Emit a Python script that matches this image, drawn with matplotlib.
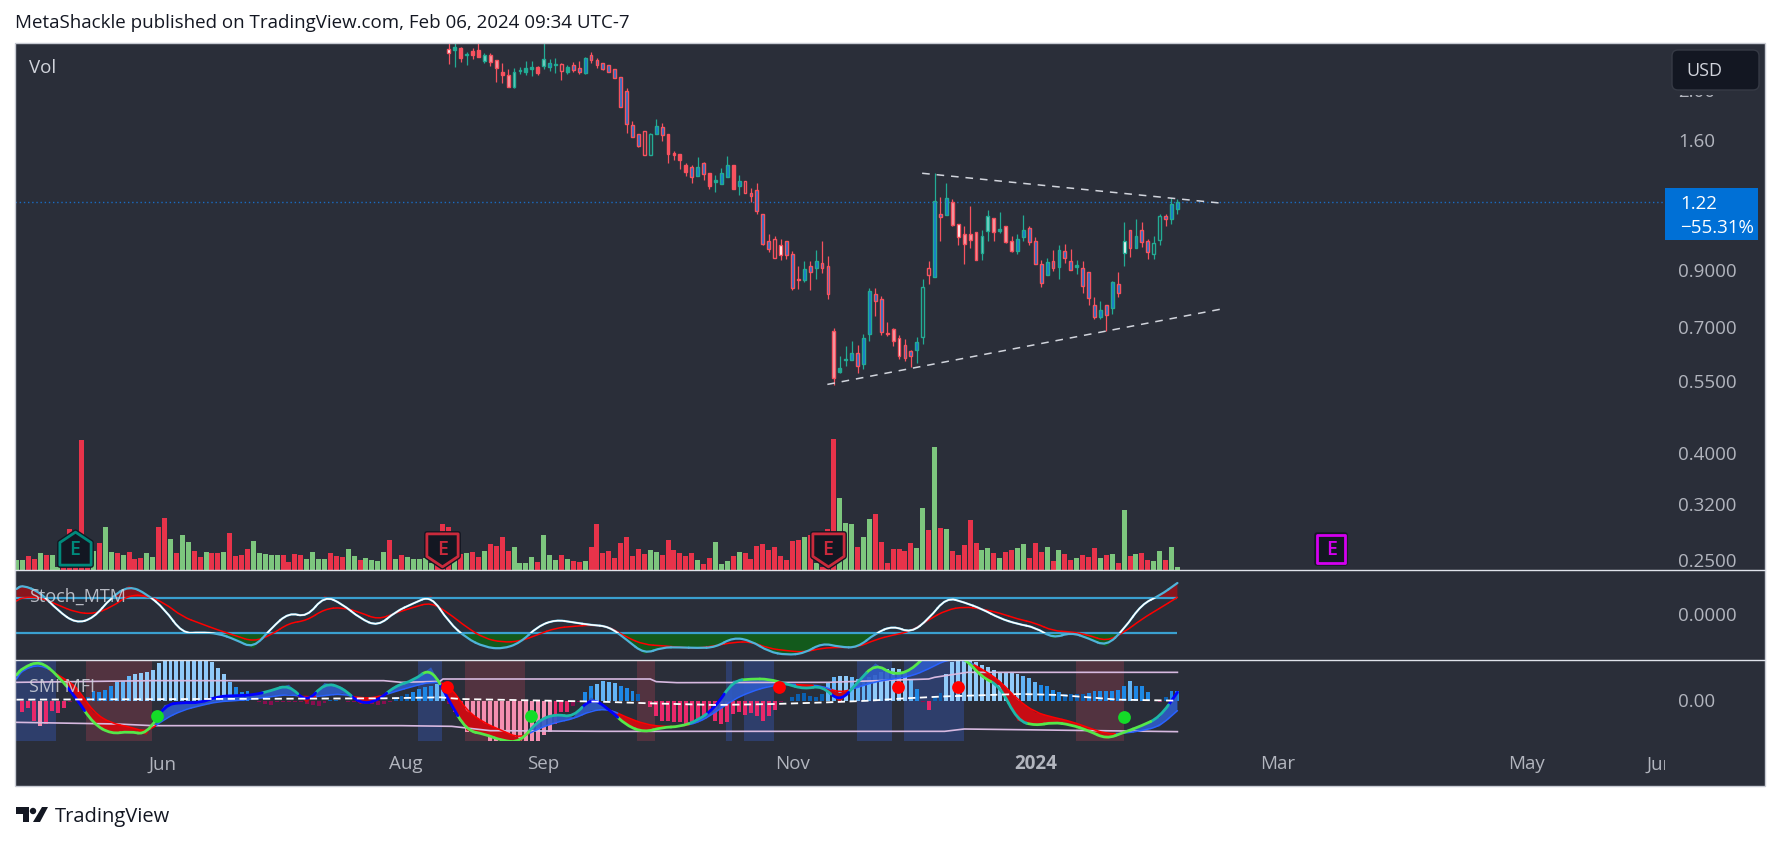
import numpy as np
import matplotlib
matplotlib.use('Agg')
import matplotlib.pyplot as plt
from matplotlib.patches import Rectangle, Polygon, Circle, FancyBboxPatch, PathPatch
from matplotlib.path import Path

plt.rcParams['font.family'] = ['Open Sans', 'DejaVu Sans']

# Candles, oldest first: high, body top, body bottom, low
hi = [2.50,2.52,2.422,2.369,2.411,2.60,2.358,2.358,2.286,2.260,2.200,2.207,2.217,2.280,2.280,2.229,2.60,2.297,2.310,2.256,2.239,2.270,2.280,2.317,2.369,2.310,2.260,2.239,2.203,2.121,2.020,1.748,1.647,1.669,1.655,1.764,1.733,1.647,1.530,1.508,1.452,1.440,1.491,1.458,1.389,1.376,1.420,1.497,1.440,1.376,1.340,1.300,1.328,1.158,1.060,1.051,1.037,1.028,.983,.920,.941,.941,.988,1.028,.962,.699,
      .618,.645,.660,.648,.681,.835,.835,.807,.719,.699,.678,.666,.634,.672,.869,.941,1.389,1.249,1.328,1.238,1.109,1.099,1.200,1.069,1.079,1.179,1.138,1.168,1.099,1.051,1.060,1.153,1.099,1.046,.945,.953,.988,1.009,1.014,.992,.945,.941,.896,.802,.788,.776,.861,.896,1.118,1.079,1.133,1.118,1.037,1.051,1.158,1.158,1.244,1.238]
top = [2.404,2.430,2.414,2.351,2.379,2.390,2.337,2.337,2.286,2.171,2.142,2.168,2.190,2.207,2.220,2.220,2.297,2.260,2.249,2.246,2.220,2.239,2.210,2.310,2.337,2.286,2.256,2.236,2.197,2.121,1.993,1.715,1.647,1.669,1.647,1.707,1.699,1.647,1.517,1.508,1.440,1.427,1.427,1.452,1.389,1.346,1.389,1.440,1.440,1.340,1.340,1.271,1.288,1.158,1.028,1.037,1.009,1.028,.970,.869,.908,.920,.941,.932,.920,.690,
       .586,.610,.626,.626,.669,.824,.813,.795,.684,.696,.669,.648,.631,.657,.839,.912,1.225,1.158,1.244,1.222,1.109,1.060,1.060,1.069,1.051,1.148,1.138,1.084,1.099,1.028,1.037,1.079,1.089,1.028,.928,.937,.941,.988,.983,.941,.924,.912,.896,.776,.757,.776,.858,.850,1.028,1.079,1.051,1.079,1.028,1.019,1.148,1.148,1.211,1.222]
bot = [2.361,2.397,2.314,2.344,2.344,2.324,2.283,2.273,2.213,2.145,2.035,2.035,2.184,2.171,2.203,2.161,2.232,2.222,2.243,2.184,2.174,2.194,2.171,2.165,2.293,2.243,2.203,2.174,2.118,1.862,1.728,1.630,1.564,1.505,1.505,1.652,1.642,1.510,1.503,1.474,1.395,1.365,1.371,1.383,1.312,1.334,1.324,1.365,1.294,1.312,1.271,1.255,1.174,1.014,.992,.953,.966,.966,.835,.865,.865,.896,.912,.912,.813,.560,
       .575,.607,.607,.591,.596,.681,.788,.687,.681,.660,.618,.613,.618,.634,.672,.883,.878,1.143,1.153,1.104,1.046,1.014,1.033,.945,.974,1.074,1.069,1.074,1.023,.983,.983,1.046,1.023,.928,.854,.883,.912,.916,.953,.904,.916,.843,.798,.735,.735,.742,.764,.816,.974,.996,.996,1.023,.979,.970,1.033,1.133,1.133,1.184]
lo = [2.249,2.222,2.273,2.243,2.300,2.317,2.263,2.232,2.080,2.071,2.035,2.026,2.155,2.145,2.136,2.145,2.203,2.184,2.165,2.099,2.155,2.174,2.155,2.155,2.263,2.213,2.194,2.171,2.118,1.862,1.660,1.630,1.557,1.505,1.505,1.652,1.600,1.452,1.471,1.414,1.371,1.328,1.371,1.346,1.294,1.277,1.324,1.365,1.294,1.261,1.271,1.222,1.158,1.009,.979,.953,.945,.949,.827,.831,.858,.827,.869,.892,.795,.543,
      .573,.591,.607,.573,.583,.660,.738,.678,.675,.645,.610,.605,.588,.599,.651,.850,.878,1.028,1.153,1.099,1.009,.928,.996,.945,.945,1.028,1.028,1.065,1.019,.979,.970,1.028,1.009,.928,.839,.883,.900,.869,.932,.904,.887,.816,.776,.728,.728,.690,.745,.802,.920,.957,.996,1.000,.949,.949,1.009,1.099,1.109,1.158]
# Numbers of the teal candles, counted from 1
green_candles = [2,4,7,12,13,14,15,17,18,19,21,24,35,36,43,46,47,48,50,61,63,67,68,69,71,72,80,81,83,85,91,92,94,97,98,102,104,107,111,113,115,117,120,121,123,124]
# Body fill of each candle: b blue, w white, k hollow, p pale, t teal, r red
candle_fill = ('wtrtrrpppr' 'pptttrpbtk' 'tbbbbbbbbb' 'bbbkkbbrrr' 'rbbbrtbbrb' 'kbbbbkwbbr' 'bbbbbp'
               'ttbbbbbbrp' 'wbbbkkbbbp' 'wpppppptpp' 'bbbbbbbbbb' 'tbbbbbbbwb' 'bbbkkbbb')

# Volume bars, oldest first
vol = [10,10,14,11,17,15,15,3,7,41,3,130,3,19,27,43,18,17,15,18,11,12,17,13,43,52,31,17,35,28,19,13,18,17,17,18,37,14,15,21,29,17,16,15,15,15,8,16,15,11,18,11,11,17,14,13,21,14,10,12,10,9,18,30,11,15,13,11,11,12,7,7,46,43,13,16,17,18,13,19,26,24,33,19,23,7,7,13,8,35,15,10,15,11,9,8,9,23,46,
       17,19,12,27,33,14,21,16,20,18,15,30,20,17,14,17,10,6,12,28,6,9,14,18,17,11,24,26,20,23,14,10,29,30,33,35,7,3,41,131,72,47,46,23,33,51,56,28,7,21,21,19,27,22,62,40,123,42,41,19,15,25,50,27,20,22,17,12,18,20,22,26,12,27,18,23,9,20,16,10,12,15,13,22,12,15,16,7,60,14,16,17,10,9,19,10,23,3]
vol_dir = ('ggrrgrggrrrrr' 'grgg' 'rgrrrgg' 'rrgrgg' 'rrgrrg' 'rrrr' 'ggggg' 'rrrr' 'gggg' 'rrr' 'gg' 'r' 'gggg' 'rgr'
           'ggggg' 'rrr' 'grg' 'rr' 'g' 'rrrr' 'gggg' 'r' 'ggg' 'rgrrgrr'
           'rrrrrrrr' 'gg' 'rrrrrr' 'g' 'rr' 'ggg' 'r' 'g' 'rrrrrrrrrr' 'g' 'r' 'g' 'rrr' 'ggg' 'r' 'gg' 'rrrrrrr' 'gg' 'r' 'g'
           'r' 'g' 'rrrrr' 'gg' 'r' 'g' 'rr' 'gg' 'rrr' 'g' 'r' 'g' 'rr' 'g' 'rrr' 'g' 'r' 'g' 'r' 'g' 'r' 'g' 'rr' 'gg' 'r' 'gg')

# Stochastic momentum, sampled every 3 bars from the last bar back
stoch_x = list(range(0, -198, -3)) + [-196]
stoch_fast = [73.6,44.6,25.6,-31.6,-71.2,-52.9,-39.2,-52.9,-27.8,-20.1,-7.2,14.2,29.4,40.8,-8.7,-40.7,-23.9,-41.5,-74.2,-72.7,-63.6,-87.2,-91,-83.4,-58.2,-50.6,-73.5,-75,-73.5,-73.5,-88.7,-55.9,-25.5,-22.4,-16.3,-10.2,-25.5,-63.6,-77.3,-72.7,-52.9,-16.3,44.6,27.1,8.1,-25.5,-7.2,25.6,44.6,-4.9,6.5,-30,-75.8,-55.9,-41.5,-39.2,-41.5,14.2,48.5,67.5,40.8,-7.2,-18.6,10.4,52.3,69,59.9]
stoch_slow = [40.8,15.7,-8.7,-39.2,-59.8,-45.3,-37.7,-36.1,-17.8,-8.7,5,14.2,19.5,11.9,-10.2,-36.9,-45.3,-55.9,-73.5,-73.5,-75,-84.9,-81.1,-75.8,-60.5,-62,-69.7,-75.8,-73.5,-69.7,-67.4,-50.6,-25.5,-22.4,-25.5,-29.3,-44.5,-59.8,-62,-52.9,-27.8,4.3,29.4,18,5,-10.2,6.5,18,14.2,-12.5,-17.8,-45.3,-60.5,-46.8,-33.8,-18.6,-3.4,27.9,44.6,46.2,18,2.7,6.5,23.3,40.8,40.8,32.4]

# SMI / MFI oscillator, same sampling
smi_fast = [.26,-.49,-.74,-.94,-1.14,-.89,-.71,-.64,-.74,-.59,.46,.71,1.31,1.34,1.46,.91,.78,1.13,.56,-.04,.46,.36,.51,.66,.66,.61,-.19,-.59,-.77,-.79,-.94,-.74,-.24,.11,-.49,-.39,-.59,-1.24,-1.19,-.99,-.89,.01,1.01,.61,.46,.01,-.09,.41,.54,-.06,.49,.31,.18,.16,.14,-.06,-.04,-.12,-1.01,-.91,-.99,-.69,.11,.76,1.21,.99,.78]
smi_slow = [-.29,-.76,-.89,-.97,-.99,-.8,-.61,-.49,-.34,.04,.61,.96,1.24,1.24,.96,.74,.66,.58,.41,.24,.46,.48,.51,.44,.28,.04,-.34,-.66,-.76,-.77,-.69,-.49,-.24,-.29,-.54,-.64,-.84,-1.12,-.89,-.66,-.29,.51,.58,.44,.29,.11,.08,.22,.16,.11,.2,.13,.06,.01,-.02,-.14,-.28,-.54,-.94,-.77,-.67,-.34,.46,.78,1.11,.93,.66]
mfi_hist = [-.34,-.22,-.59,-.74,-.69,-.29,-.36,-.22,-.02,0,.04,.11,.31,.26,.34,.46,.58,.61,.74,.81,.84,.86,.93,1.13,1.2,1.25,1.25,1.25,1.25,1.25,1.25,1.25,1.16,.98,.81,.58,.41,.26,.31,.01,-.04,-.09,-.11,-.04,-.02,-.02,-.02,-.04,-.09,-.11,-.14,-.07,.03,.03,0,-.02,-.04,-.06,-.09,-.09,-.11,-.09,-.04,.11,.16,.21,.26,.36,.41,.46,.51,.51,-.09,-.34,-.59,-.92,-.94,-.94,-.94,-1.19,-1.3,-1.3,-1.3,-1.3,-1.3,-1.3,-1.3,-1.3,-1.02,-.94,-.69,-.34,-.32,-.14,-.02,.26,.44,.51,.61,
            .58,.53,.46,.38,.31,.21,0,-.19,-.44,-.59,-.59,-.62,-.64,-.69,-.69,-.59,-.49,-.44,-.59,-.69,-.64,-.39,-.34,-.41,-.36,-.46,-.59,-.44,-.27,-.04,0,.11,.21,.24,.16,.13,.21,.56,.71,.76,.76,.73,.66,.63,.71,.78,.88,.96,.99,.96,.84,.66,.36,-.04,-.26,.11,.24,.81,1.16,1.25,1.25,1.25,1.18,1.08,1.01,.93,.86,.86,.86,.81,.74,.68,.56,.49,.46,.34,.26,.21,.2,.2,.22,.25,.29,.31,.31,.31,.33,.44,.61,.46,.44,.28,.01,-.04,.11,.31,.31]

band_up_x = [-196,-173,-134,-131,-124.5,-124,-97.5,-89,-88,-84.5,-59,-42,-41,-35.5,0]
band_up = [.56,.61,.61,.56,.59,.66,.66,.66,.58,.55,.56,.66,.71,.86,.86]
band_lo_x = [-196,-179,-173,-131,-122.5,-116,-97.5,-39.3,-36,0]
band_lo = [-.64,-.69,-.74,-.74,-.76,-.89,-.91,-.91,-.84,-.92]
signal_x = [-196,-134,-124.5,-121,-97.5,-89,-78,-68,-59,-52,-46,-39,-26.5,-20,-10,0]
signal = [.04,.08,.11,.06,-.02,-.07,-.12,-.09,-.04,.01,.08,.14,.21,.18,.04,.01]

blue_spans = [(-196,-189.3),(-128.2,-124.2),(-76.2,-75.2),(-73.2,-68.1),(-54.1,-48.2),(-46.2,-36.1)]
red_spans = [(-184.2,-173.2),(-120.3,-110.1),(-91.2,-88.2),(-17.1,-9.1)]
buy_x, buy_y = [-172.3,-109.2,-9], [-.46,-.46,-.47]
sell_x, sell_y = [-123.3,-67.2,-47.1,-37.1], [.43,.43,.43,.43]

# Trendlines
line_hi_x, line_hi_y = [-43.1,7.6], [1.387,1.2146]
line_lo_x, line_lo_y = [-59.1,7.5], [.545,.761]

price_ticks = [2.00,1.60,.9000,.7000,.5500,.4000,.3200,.2500]
price_labels = ['2.00','1.60','0.9000','0.7000','0.5500','0.4000','0.3200','0.2500']
time_ticks = [-171.3,-130.2,-107,-65,-24,17,59,81.5]
time_labels = ['Jun','Aug','Sep','Nov','2024','Mar','May','Jun']
earn_x = [-186.2,-124.1,-59,26]
last_price = 1.22

BG = '#2a2e39'
TXT = '#b2b5be'
RED = '#f7525f'
TEAL = '#22ab94'
W, H = 1781, 845
XMIN, XMAX = -196.25, 99.2


def px_rect(x0, y0, x1, y1):
    return [x0 / W, 1 - y1 / H, (x1 - x0) / W, (y1 - y0) / H]


def pane(y0, y1):
    ax = fig.add_axes(px_rect(15, y0, 1765, y1), facecolor=BG)
    ax.set_xlim(XMIN, XMAX)
    ax.set_xticks([])
    ax.set_yticks([])
    for s in ax.spines.values():
        s.set_visible(False)
    return ax


def curve_parts(x, y):
    # rounded pieces between the midpoints of the samples, one per sample
    pts = np.column_stack([x, y])
    mids = (pts[:-1] + pts[1:]) / 2
    last = len(pts) - 1
    parts = [(0, Path([pts[0], mids[0]]))]
    for i in range(1, last):
        parts.append((i, Path([mids[i - 1], pts[i], mids[i]], [Path.MOVETO, Path.CURVE3, Path.CURVE3])))
    parts.append((last, Path([mids[-1], pts[-1]])))
    return parts


def draw_curve(ax, x, y, color, lw, zorder, clip=None):
    for i, p in curve_parts(x, y):
        c = color(i) if callable(color) else color
        patch = PathPatch(p, fill=False, edgecolor=c, lw=lw, zorder=zorder, capstyle='round')
        ax.add_patch(patch)
        if clip is not None:
            patch.set_clip_path(clip)


fig = plt.figure(figsize=(W / 100, H / 100), dpi=100, facecolor='white')

# Volume pane, behind the candles
vax = pane(44, 571)
vax.set_ylim(0, 527)
vol_x = np.arange(-len(vol) + 1, 1)
vol_colors = ['#7dc67e' if d == 'g' else '#e8334a' for d in vol_dir]
vax.bar(vol_x, vol, width=.84, color=vol_colors, linewidth=0, zorder=1)

# Candles on a log price scale, same pane
ax = pane(44, 571)
ax.patch.set_alpha(0)
ax.set_yscale('log')
ax.set_ylim(.2398, 2.468)
ax.minorticks_off()
ax.set_yticks([])
ax.set_xticks([])
n = len(hi)
cx = np.arange(-n + 1, 1)
ax.axhline(last_price, xmax=(1664 - 15) / 1750, color='#1a6cc4', lw=1.0, ls=(0, (1, 2)), zorder=1)
for i in range(n):
    edge = TEAL if (i + 1) in green_candles else RED
    f = candle_fill[i]
    if f == 'p':
        face = '#f2a3ab' if edge == RED else '#7fd4c8'
    elif f == 'b':
        face = '#1976d2'
    elif f == 'w':
        face = '#ffffff'
    elif f == 'k':
        face = BG
    elif f == 't':
        face = TEAL
    else:
        face = edge
    ax.vlines(cx[i], lo[i], hi[i], color=edge, lw=.9, zorder=2)
    ax.bar(cx[i], top[i] - bot[i], bottom=bot[i], width=.48, facecolor=face, edgecolor=edge, linewidth=1.0, zorder=3)

ax.plot(line_hi_x, line_hi_y, color='#d1d4dc', lw=1.1, ls=(0, (5, 4.5)), zorder=4)
ax.plot(line_lo_x, line_lo_y, color='#d1d4dc', lw=1.1, ls=(0, (5, 4.5)), zorder=4)

# Earnings badges
house = Path([(-.45, .2), (0, .5), (.45, .2), (.45, -.45), (-.45, -.45), (-.45, .2)], closed=True)
shield = Path([(-.45, .45), (.45, .45), (.45, -.2), (0, -.5), (-.45, -.2), (-.45, .45)], closed=True)
square = Path([(-.5, .5), (.5, .5), (.5, -.5), (-.5, -.5), (-.5, .5)], closed=True)
badges = [(house, '#00897b', 25), (shield, '#c92a3c', 25), (shield, '#c92a3c', 25), (square, '#d400f0', 20.5)]
for x, (mk, col, ms) in zip(earn_x, badges):
    vax.plot([x], [21], marker=mk, ms=ms, mfc='#131722', mec='#131722', mew=4, zorder=5, clip_on=False, ls='none')
    vax.plot([x], [21], marker=mk, ms=ms, mfc='#131722', mec=col, mew=2, zorder=5, clip_on=False, ls='none')
    vax.text(x, 21, 'E', color=col, ha='center', va='center', fontsize=14, weight='semibold', zorder=6)

# Stoch pane
sax = pane(571, 661)
sax.set_ylim(-102.4, 103.3)
sx = np.array(stoch_x)
sf = np.array(stoch_fast)
ss = np.array(stoch_slow)
sax.fill_between(sx, sf, 40, where=sf > 40, interpolate=True, color='#8a151d', lw=0, zorder=1)
sax.fill_between(sx, sf, -40, where=sf < -40, interpolate=True, color='#135a1c', lw=0, zorder=1)
draw_curve(sax, sx, ss, '#ff0000', 1.1, 3)
draw_curve(sax, sx, sf, '#4fb3d9', 1.6, 4)
inside = Rectangle((XMIN, -40), XMAX - XMIN, 80, transform=sax.transData)
draw_curve(sax, sx, sf, 'white', 1.2, 5, clip=inside)
sax.hlines([40, -40], XMIN, 0, color='#3aa0d0', lw=1.6, zorder=2)

# SMI pane, clipped where the time axis starts
max_ = pane(661, 742)
max_.set_ylim(-1.2, 1.23)
for a, b in blue_spans:
    max_.axvspan(a, b, color='#2e3e6b', lw=0, zorder=1)
for a, b in red_spans:
    max_.axvspan(a, b, color='#523340', lw=0, zorder=1)
hist = np.array(mfi_hist)
hist_x = np.arange(-len(hist) + 1, 1)


def hist_color(v):
    h = abs(v)
    if v >= 0:
        return '#0b5fb0' if h < .25 else '#1e88e5' if h < .5 else '#64b5f6' if h < .75 else '#90caf9'
    return '#880e4f' if h < .15 else '#e8286a' if h < .7 else '#f48fb1'


def fast_color(i):
    a = abs(mf[i])
    return '#0000ff' if a < .3 else '#1db8a8' if a < .62 else '#55e84a'


def slow_color(i):
    return '#ff0000' if mf[i] < ms[i] else '#2962ff'


max_.bar(hist_x, hist, width=.66, color=[hist_color(v) for v in hist], lw=0, zorder=2)
mf = np.array(smi_fast)
ms = np.array(smi_slow)
mx = np.array(stoch_x)
max_.fill_between(mx, mf, ms, where=mf >= ms, interpolate=True, color='#2f5cc8', alpha=.9, lw=0, zorder=3)
max_.fill_between(mx, mf, ms, where=mf <= ms, interpolate=True, color='#c70c14', lw=0, zorder=3)
max_.plot(band_up_x, band_up, color='#d7b9e0', lw=1.2, zorder=4)
max_.plot(band_lo_x, band_lo, color='#d7b9e0', lw=1.2, zorder=4)
draw_curve(max_, mx, ms, slow_color, 1.1, 5)
draw_curve(max_, mx, mf, fast_color, 2.0, 6)
max_.plot(signal_x, signal, color='white', lw=1.3, ls=(0, (4, 2.5)), zorder=7)
max_.plot(buy_x, buy_y, 'o', color='#14dc28', ms=9.2, mew=0, zorder=8)
max_.plot(sell_x, sell_y, 'o', color='#ff0000', ms=9.2, mew=0, zorder=8)

# Time axis strip
tax = pane(742, 787)
tax.set_ylim(0, 1)
clip_r = Rectangle((XMIN, 0), 82.4 - XMIN, 1, transform=tax.transData)
for x, lab in zip(time_ticks, time_labels):
    t = tax.text(x, .5, lab, color=TXT, fontsize=13.5, ha='center', va='center',
                 weight='bold' if lab == '2024' else 'normal')
    t.set_clip_on(True)
    t.set_clip_path(clip_r)

# Price scale labels, drawn over everything in pixel positions
label_ax = fig.add_axes(px_rect(0, 0, W, H), facecolor='none')
label_ax.set_xlim(0, W)
label_ax.set_ylim(H, 0)
label_ax.axis('off')
label_ax.set_zorder(20)


def price_y(p):
    return 142 + 226 * np.log(1.6 / p)


for p, lab in zip(price_ticks, price_labels):
    t = label_ax.text(1678, price_y(p), lab, color=TXT, fontsize=13.5, va='center', ha='left')
    if lab == '0.2500':
        t.set_clip_on(True)
        t.set_clip_path(Rectangle((0, 0), W, 570, transform=label_ax.transData))
    if lab == '2.00':
        # only the foot of this label shows below the currency box
        t.set_clip_on(True)
        t.set_clip_path(Rectangle((0, 96), W, 40, transform=label_ax.transData))
label_ax.text(1678, 616, '0.0000', color=TXT, fontsize=13.5, va='center')
label_ax.text(1678, 702, '0.00', color=TXT, fontsize=13.5, va='center')

label_ax.add_patch(FancyBboxPatch((1675, 54), 81, 34, boxstyle='round,pad=3,rounding_size=6', fc='#131722', ec='#363a45', lw=1, zorder=3))
label_ax.text(1686, 71, 'USD', color='#d1d4dc', fontsize=13, va='center', zorder=4)
label_ax.add_patch(Rectangle((1665, 189), 93, 52, fc='#0070d6', lw=0, zorder=3))
label_ax.text(1680, 204, '1.22', color='white', fontsize=13.5, va='center', zorder=4)
label_ax.text(1680, 228, '\u221255.31%', color='white', fontsize=13.5, va='center', zorder=4)

label_ax.text(29, 68, 'Vol', color='#d1d4dc', fontsize=13.5, va='center')
label_ax.text(29, 597, 'Stoch_MTM', color='#d1d4dc', fontsize=13, va='center', alpha=.85)
label_ax.text(29, 687, 'SMI MFI', color='#d1d4dc', fontsize=13, va='center', alpha=.85)

# Pane rules and outer border
label_ax.plot([15, 1765], [571, 571], color='#e0e3eb', lw=1)
label_ax.plot([15, 1765], [661, 661], color='#e0e3eb', lw=1)
label_ax.add_patch(Rectangle((15, 44), 1750, 743, fill=False, ec='#c8cbd3', lw=1))

# Header and footer
label_ax.text(15, 23, 'MetaShackle published on TradingView.com, Feb 06, 2024 09:34 UTC-7', color='#131722', fontsize=13.5, va='center')
label_ax.text(55, 817, 'TradingView', color='#131722', fontsize=14.5, va='center')
label_ax.add_patch(Polygon([(16, 808), (29, 808), (29, 823), (23, 823), (23, 815), (16, 815)], fc='#131722', lw=0))
label_ax.add_patch(Circle((33, 812), 3.2, fc='#131722', lw=0))
label_ax.add_patch(Polygon([(42, 808), (48, 808), (40, 823), (33, 823)], fc='#131722', lw=0))

fig.savefig('out.png', dpi=100, facecolor='white')
